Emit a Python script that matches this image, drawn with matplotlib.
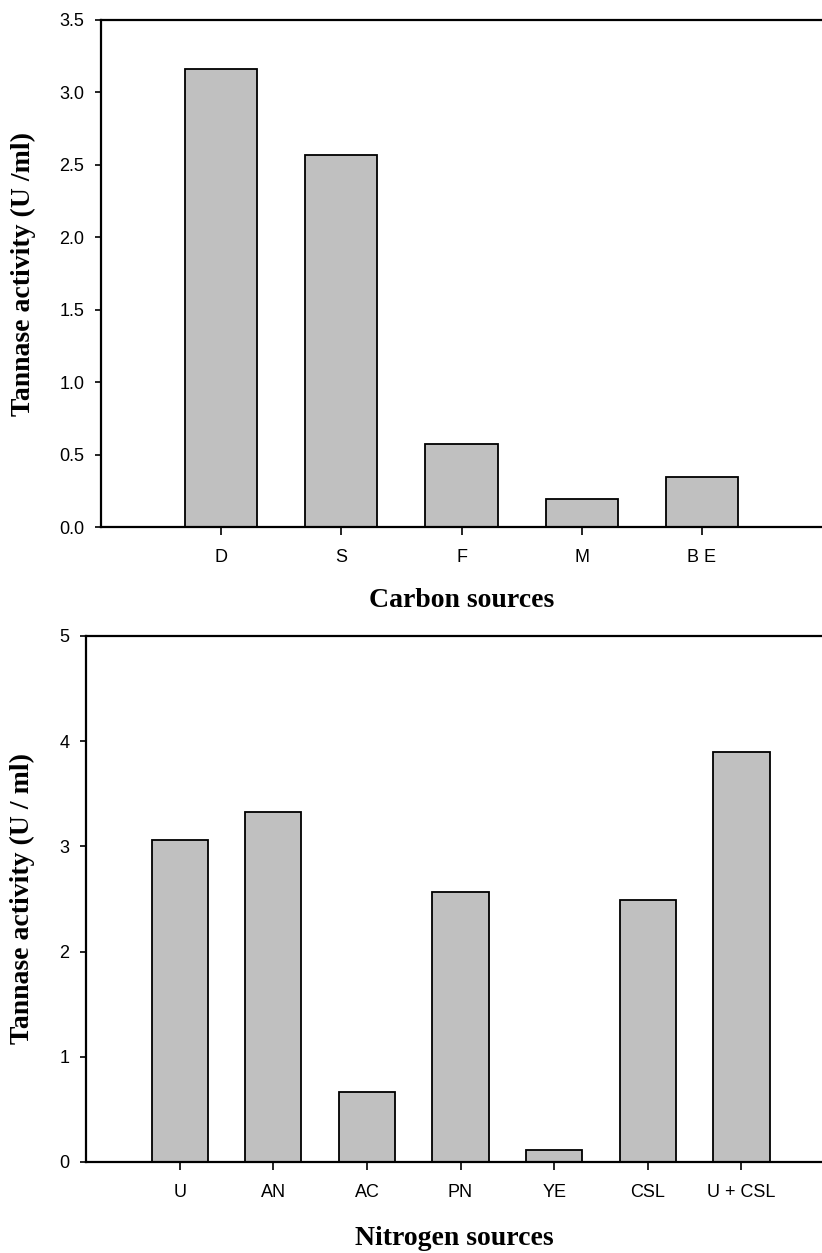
import numpy as np
import matplotlib
matplotlib.use('Agg')
import matplotlib.pyplot as plt

carbon = ['D', 'S', 'F', 'M', 'B E']
carbon_act = [3.16, 2.57, 0.57, 0.19, 0.345]

nitrogen = ['U', 'AN', 'AC', 'PN', 'YE', 'CSL', 'U + CSL']
nitrogen_act = [3.06, 3.33, 0.665, 2.57, 0.11, 2.49, 3.90]

plt.rcParams['font.family'] = 'Liberation Sans'
W, H = 822, 1253
fig = plt.figure(figsize=(W / 100, H / 100), dpi=100)

lab_font = dict(family='Liberation Serif', fontweight='bold', fontsize=20)


def px_axes(left, top, right, bottom):
    return fig.add_axes([left / W, 1 - bottom / H, (right - left) / W, (bottom - top) / H])


def style(ax):
    ax.spines['right'].set_visible(False)
    for s in ['left', 'top', 'bottom']:
        ax.spines[s].set_linewidth(1.6)
    ax.tick_params(axis='y', direction='out', length=4, width=1.2, pad=8, labelsize=13)
    ax.tick_params(axis='x', direction='out', length=5.5, width=1.2, pad=10, labelsize=13)
    ax.xaxis.label.set_va('center')
    ax.yaxis.label.set_va('center')


# carbon sources
ax1 = px_axes(101, 20, 822, 527)
x1 = np.arange(1, len(carbon) + 1)
ax1.bar(x1, carbon_act, width=0.6, color='#c0c0c0', edgecolor='black', linewidth=1.3)
ax1.set_xlim(0, 6)
ax1.set_ylim(0, 3.5)
ax1.set_yticks(np.arange(0, 3.51, 0.5))
ax1.set_yticklabels(['%.1f' % v for v in np.arange(0, 3.51, 0.5)])
ax1.set_xticks(x1)
ax1.set_xticklabels(carbon)
ax1.set_xlabel('Carbon sources', **lab_font)
ax1.set_ylabel('Tannase activity (U /ml)', **lab_font)
style(ax1)
ax1.xaxis.set_label_coords(0.5, -0.144)
ax1.yaxis.set_label_coords(-0.108, 0.5)

# nitrogen sources
ax2 = px_axes(86, 636, 822, 1162)
x2 = np.arange(1, len(nitrogen) + 1)
ax2.bar(x2, nitrogen_act, width=0.6, color='#c0c0c0', edgecolor='black', linewidth=1.3)
ax2.set_xlim(0, 7.86)
ax2.set_ylim(0, 5)
ax2.set_yticks(range(0, 6))
ax2.set_xticks(x2)
ax2.set_xticklabels(nitrogen)
ax2.set_xlabel('Nitrogen sources', **lab_font)
ax2.set_ylabel('Tannase activity (U / ml)', **lab_font)
style(ax2)
ax2.xaxis.set_label_coords(0.5, -0.145)
ax2.yaxis.set_label_coords(-0.086, 0.5)

fig.savefig('out.png', dpi=100)
